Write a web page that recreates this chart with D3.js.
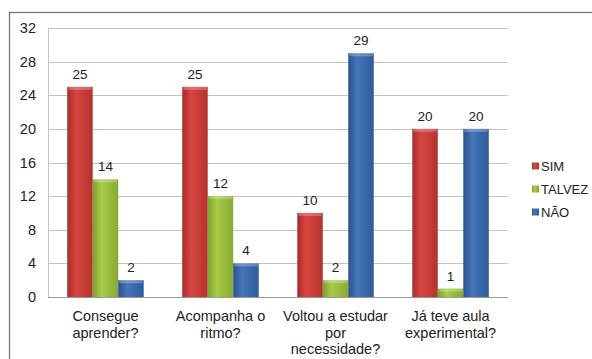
<!DOCTYPE html>
<html>
<head>
<meta charset="utf-8">
<script src="https://cdn.jsdelivr.net/npm/d3@7"></script>
<style>
  body { margin: 0; background: #fff; }
  text { font-family: "Liberation Sans", Arial, sans-serif; fill: #222; }
</style>
</head>
<body>
<div class="canvas-container"></div>
<script>
// data
var categories = [
    ["Consegue", "aprender?"],
    ["Acompanha o", "ritmo?"],
    ["Voltou a estudar", "por", "necessidade?"],
    ["Já teve aula", "experimental?"]
];
var seriesNames = ["SIM", "TALVEZ", "NÃO"];
var sim    = [25, 25, 10, 20];
var talvez = [14, 12, 2, 1];
var nao    = [2, 4, 29, 20];
var yTicks = [0, 4, 8, 12, 16, 20, 24, 28, 32];

var colors = {
    SIM:    ["#a52d2a", "#d8453f", "#b3332f"],
    TALVEZ: ["#7d9f2c", "#a6cc48", "#86aa32"],
    "NÃO":  ["#2a5290", "#4475b8", "#2f5b9c"]
};

var width = 592, height = 359;
var margin = {top: 28, right: 84, bottom: 62, left: 48};

var svg = d3.select("div.canvas-container")
    .append("svg")
    .attr("width", width)
    .attr("height", height);

// outer frame (runs off the right and bottom edges)
svg.append("rect")
    .attr("x", 9.5).attr("y", 12.5)
    .attr("width", 620).attr("height", 400)
    .attr("fill", "none")
    .attr("stroke", "#777")
    .attr("stroke-width", 1.3);

var defs = svg.append("defs");
seriesNames.forEach(function (s, i) {
    var gr = defs.append("linearGradient")
        .attr("id", "grad" + i)
        .attr("x1", "0").attr("x2", "1").attr("y1", "0").attr("y2", "0");
    gr.append("stop").attr("offset", "0%").attr("stop-color", colors[s][0]);
    gr.append("stop").attr("offset", "35%").attr("stop-color", colors[s][1]);
    gr.append("stop").attr("offset", "100%").attr("stop-color", colors[s][2]);
});

var x0 = d3.scaleBand()
    .domain(d3.range(categories.length))
    .range([margin.left, width - margin.right])
    .paddingInner(0.335)
    .paddingOuter(0.167);

var x1 = d3.scaleBand()
    .domain(seriesNames)
    .range([0, x0.bandwidth()]);

var y = d3.scaleLinear()
    .domain([0, 32])
    .range([height - margin.bottom, margin.top]);

// gridlines
svg.append("g")
    .selectAll("line")
    .data(yTicks)
    .enter()
    .append("line")
    .attr("x1", margin.left)
    .attr("x2", width - margin.right)
    .attr("y1", function (d) { return Math.round(y(d)) + 0.5; })
    .attr("y2", function (d) { return Math.round(y(d)) + 0.5; })
    .attr("stroke", function (d) { return d === 0 ? "#999" : "#c4c4c4"; })
    .attr("stroke-width", 1.2);

// left axis line
svg.append("line")
    .attr("x1", margin.left + 0.5).attr("x2", margin.left + 0.5)
    .attr("y1", margin.top).attr("y2", y(0))
    .attr("stroke", "#c4c4c4");

// y tick labels
svg.append("g")
    .selectAll("text")
    .data(yTicks)
    .enter()
    .append("text")
    .attr("x", 36)
    .attr("y", function (d) { return y(d); })
    .attr("dy", "0.35em")
    .attr("text-anchor", "end")
    .style("font-size", "14.5px")
    .text(function (d) { return d; });

var rows = categories.map(function (c, i) {
    return {i: i, values: [sim[i], talvez[i], nao[i]]};
});

var groups = svg.selectAll(".grp")
    .data(rows)
    .enter()
    .append("g")
    .attr("class", "grp")
    .attr("transform", function (d) { return "translate(" + x0(d.i) + ",0)"; });

var bars = groups.selectAll(".bar")
    .data(function (d) {
        return d.values.map(function (v, k) { return {s: seriesNames[k], k: k, v: v}; });
    })
    .enter()
    .append("g")
    .attr("class", "bar");

bars.append("rect")
    .attr("x", function (d) { return x1(d.s); })
    .attr("y", function (d) { return y(d.v); })
    .attr("width", x1.bandwidth())
    .attr("height", function (d) { return y(0) - y(d.v); })
    .attr("fill", function (d) { return "url(#grad" + d.k + ")"; });

// lighter cap on top of each bar
bars.append("rect")
    .attr("x", function (d) { return x1(d.s) + 1; })
    .attr("y", function (d) { return y(d.v); })
    .attr("width", x1.bandwidth() - 2)
    .attr("height", function (d) { return Math.min(3, y(0) - y(d.v)); })
    .attr("fill", "#fff")
    .attr("opacity", 0.25);

bars.append("text")
    .attr("x", function (d) { return x1(d.s) + x1.bandwidth() / 2; })
    .attr("y", function (d) { return y(d.v) - 8; })
    .attr("text-anchor", "middle")
    .style("font-size", "13.5px")
    .text(function (d) { return d.v; });

// category labels
var catLabels = svg.append("g")
    .selectAll("text")
    .data(categories)
    .enter()
    .append("text")
    .attr("text-anchor", "middle")
    .style("font-size", "14.5px")
    .attr("transform", function (d, i) {
        return "translate(" + (x0(i) + x0.bandwidth() / 2) + "," + (y(0) + 24) + ")";
    });

catLabels.selectAll("tspan")
    .data(function (d) { return d; })
    .enter()
    .append("tspan")
    .attr("x", 0)
    .attr("y", function (d, j) { return j * 16.5; })
    .text(function (d) { return d; });

// legend
var legend = svg.append("g")
    .selectAll("g")
    .data(seriesNames)
    .enter()
    .append("g")
    .attr("transform", function (d, i) { return "translate(532," + (166 + i * 23) + ")"; });

legend.append("rect")
    .attr("x", 0).attr("y", -3.5)
    .attr("width", 7).attr("height", 7)
    .attr("fill", function (d, i) { return "url(#grad" + i + ")"; });

legend.append("text")
    .attr("x", 9)
    .attr("dy", "0.36em")
    .style("font-size", "13px")
    .text(function (d) { return d; });
</script>
</body>
</html>
